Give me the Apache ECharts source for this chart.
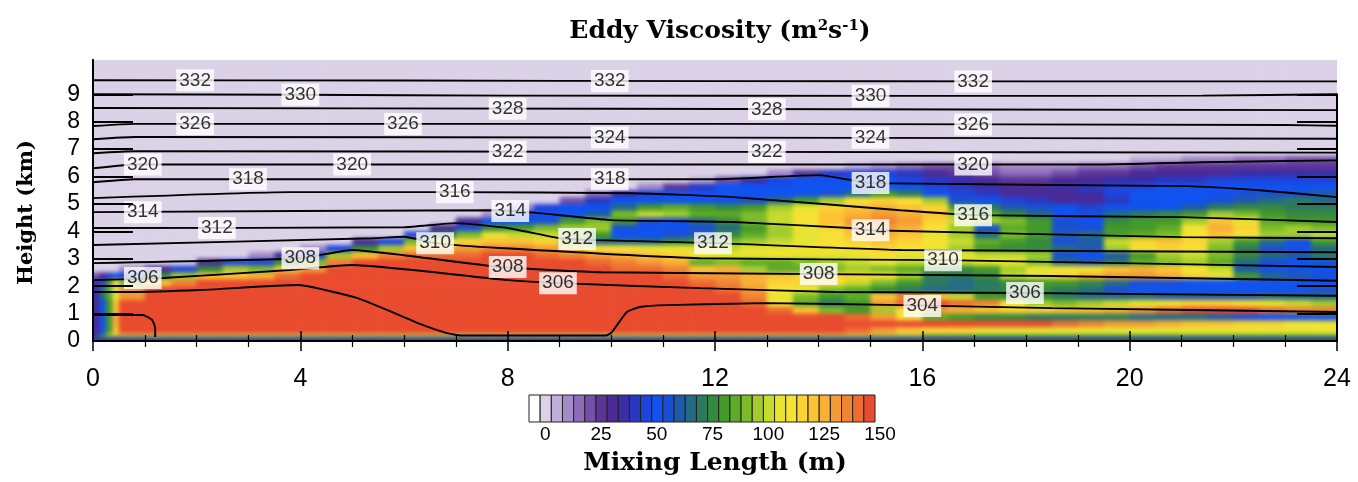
<!DOCTYPE html>
<html>
<head>
<meta charset="utf-8">
<script src="https://cdn.jsdelivr.net/npm/echarts@6/dist/echarts.min.js"></script>
<style>
  html, body { margin: 0; padding: 0; background: #fff; }
  #stage { position: relative; width: 1358px; height: 482px; }
  /* shaded field sits in the plot box, softened like a smooth contour fill */
  #fieldBox { position: absolute; left: 93px; top: 60px; width: 1244px; height: 281px; overflow: hidden; }
  #field { position: absolute; left: -93px; top: -60px; width: 1358px; height: 482px; filter: blur(2px); }
  #chart { position: absolute; left: 0; top: 0; width: 1358px; height: 482px; }
</style>
</head>
<body>
<div id="stage">
  <div id="fieldBox"><div id="field"></div></div>
  <div id="chart"></div>
</div>
<script>
// ---- axes ----
const distanceTicks = [0, 4, 8, 12, 16, 20, 24];
const heightTicks = [0, 1, 2, 3, 4, 5, 6, 7, 8, 9];
const mixingTicks = [0, 25, 50, 75, 100, 125, 150];

// colour scale: 31 steps of 5 m from -5 to 150 m
const scaleColors = [
  '#ffffff', '#dcd2e7', '#c0aedb', '#a48bc9', '#8d6cb9', '#7450a8', '#5d3598', '#4a2a94',
  '#3a2ea6', '#2a38c0', '#1e44dc', '#0f52f0', '#1a4fd5', '#1f5aaa', '#236b84', '#2c7a5e',
  '#35893e', '#45992a', '#5eab28', '#7dbb2a', '#a3cc2c', '#c7da2e', '#e7e431', '#f6e233',
  '#fbd334', '#fbc335', '#f8b036', '#f49b35', '#f08433', '#ec6c31', '#e94b2e'
];

// mixing length field: one character per column, one string per layer (top to bottom)
// character = colour step (0 .. u), step n covers 5n-5 .. 5n m
const levelKey = '0123456789abcdefghijklmnopqrstu';
const columnEdgesKm = [0, 0.125, 0.25, 0.375, 0.5, 1, 1.5, 2, 2.5, 3, 3.5, 4, 4.5, 5, 5.5, 6,
  6.5, 7, 7.5, 8, 8.5, 9, 9.5, 10, 10.5, 11, 11.5, 12, 12.5, 13, 13.5, 14, 14.5, 15, 15.5, 16,
  16.5, 17, 17.5, 18, 18.5, 19, 19.5, 20, 20.5, 21, 21.5, 22, 22.5, 23, 23.5, 24];
const layerEdgesKm = [10.25, 10, 9.75, 9.5, 9.25, 9, 8.75, 8.5, 8.25, 8, 7.75, 7.5, 7.25, 7,
  6.75, 6.5, 6.25, 6, 5.75, 5.5, 5.25, 5, 4.75, 4.5, 4.25, 4, 3.75, 3.5, 3.25, 3, 2.75, 2.5,
  2.25, 2, 1.75, 1.5, 1.25, 1, 0.75, 0.5, 0.25, 0.17, 0.08, 0];
const mixingLayers = [
  '1111 1111111 11111111 11111111 11111111 11111111 11111111',
  '1111 1111111 11111111 11111111 11111111 11111111 11111111',
  '1111 1111111 11111111 11111111 11111111 11111111 11111111',
  '1111 1111111 11111111 11111111 11111111 11111111 11111111',
  '1111 1111111 11111111 11111111 11111111 11111111 11111111',
  '1111 1111111 11111111 11111111 11111111 11111111 11111111',
  '1111 1111111 11111111 11111111 11111111 11111111 11111111',
  '1111 1111111 11111111 11111111 11111111 11111111 11111111',
  '1111 1111111 11111111 11111111 11111111 11111111 11111111',
  '1111 1111111 11111111 11111111 11111111 11111111 11111111',
  '1111 1111111 11111111 11111111 11111111 11111111 11111111',
  '1111 1111111 11111111 11111111 11111111 11111111 11111111',
  '1111 1111111 11111111 11111111 11111111 11111111 11111111',
  '1111 1111111 11111111 11111111 11111111 11111111 11111111',
  '1111 1111111 11111111 11111111 11111111 11111111 22334455',
  '1111 1111111 11111111 11111111 11111234 55433344 56666666',
  '1111 1111111 11111111 11111111 11369aa9 76544566 77778888',
  '1111 1111111 11111111 11111112 58abbbba 98766778 899aaaaa',
  '1111 1111111 11111111 11111369 bbbbbbbb a987789a abbbbbbb',
  '1111 1111111 11111111 11148abb bbbbcehf ba97778a bbbbcccd',
  '1111 1111111 11111111 1159bbbb bcehknon kcba9779 bbbcdefe',
  '1111 1111111 11111111 3abbehih ghkmopqp ohfdcbab bbdfggff',
  '1111 1111111 11111113 abbdjlki ijlnpqrq pkigebce fghkjhgg',
  '1111 1111111 1111117b bchjhcbe gjlnprsr olkjhcbg hhkpmihh',
  '1111 1111111 111117cg hjkkcbbc ehkmoqrq nkcihcch hinqojkj',
  '1111 1111111 1111afjm llkhbbcd gikmnpqp mkejhdeh ijnpnkkl',
  '1111 1111111 117ajmop poieeegh jklmnopo nlihgcdl opokhech',
  '1111 1111111 3agkpqrs srpnnmmm lmmnnnon mkhggedk nonjfcbe',
  '1111 1111137 akpstttu utsrqpon mmnmmmnm mmllkcbd hkljgedf',
  '1111 1117aag jsuuuuuu uuutsrqi jiijklml llmmjedf ijkiecbc',
  '1111 37agkjp ruuuuuuu uuuuttsp qkiijkji hghkmnnp qpnldbbb',
  '579b agkppqt uuuuuuuu uuuuuutr rqpooonk ffglmoqr rqomhedc',
  '7ahn jpsuuuu uuuuuuuu uuuuuuut sqoonljh fefghhge ccbbbbbb',
  '8eim ruuuuuu uuuuuuuu uuuuuuuu trnmjigf eefggfec bbbbbbbc',
  '8eim ruuuuuu uuuuuuuu uuuuuuuu usmjhips plhggfee eddddeee',
  '7bhp uuuuuuu uuuuuuuu uuuuuuuu utnifhrt utsnkjkl mnoonmlk',
  '7bhp uuuuuuu uuuuuuuu uuuuuuuu uutpjhkn rqpooppq rtuuutss',
  '7bhq uuuuuuu uuuuuuuu uuuuuuuu uuuuutrn ihggffff eeedcbbb',
  '7bhq uuuuuuu uuuuuuuu uuuuuuuu uuuuuuuu uuuuutsr rqppoonn',
  '7bhp uuuuuuu uuuuuuuu uuuuuuuu uuuuutrp oommmmmm mmmmmmmm',
  '8hnn nnnnnnn nnnnnnnn nnnnnnnn nnnnnnll iiiiiiii iiiiiiii',
  'eeee eeeeeee eeeeeeee eeeeeeee eeeeeeee eeeeeeee eeeeeeee',
  '8888 8888888 88888888 88888888 88888888 88888888 88888888'
];

// potential temperature isentropes (K): [distance km, height km]
const isentrope302 = [[0, 0.95], [0.96, 0.95], [1.14, 0.77], [1.2, 0.47], [1.2, 0.15]];
const isentrope304 = [[0, 1.79], [0.7, 1.79], [2.06, 1.86], [3.94, 2.04], [5.09, 1.57], [6.37, 0.58],
  [6.83, 0.29], [7.1, 0.2], [9.9, 0.2], [10.0, 0.3], [10.11, 0.58], [10.3, 1.06], [10.55, 1.24],
  [11.07, 1.31], [13, 1.38], [15.6, 1.31], [18.5, 1.2], [24, 1.06]];
const isentrope306 = [[0, 2.22], [1.35, 2.3], [3.8, 2.59], [5, 2.77], [8, 2.22], [9, 2.11], [11.7, 1.93],
  [14.3, 1.79], [18, 1.75], [24, 1.65]];
const isentrope308 = [[0, 2.84], [4, 3.02], [5, 3.32], [6, 3.13], [7.85, 2.7], [9.8, 2.51], [14, 2.44],
  [18.5, 2.37], [24, 2.2]];
const isentrope310 = [[0, 3.5], [5.4, 3.75], [6.0, 3.8], [6.6, 3.57], [7.85, 3.39], [11.7, 3.02],
  [16.4, 2.95], [24, 2.7]];
const isentrope312 = [[0, 4.12], [6.0, 4.15], [7.0, 4.3], [8.0, 4.12], [9.0, 3.75], [9.72, 3.68],
  [12, 3.57], [15.6, 3.32], [24, 3.24]];
const isentrope314 = [[0, 4.7], [7.66, 4.77], [8.4, 4.7], [10, 4.41], [12.35, 4.34], [14.6, 4.12],
  [15, 4.04], [21, 3.79], [24, 3.75]];
const isentrope316 = [[0, 5.21], [3.8, 5.43], [7, 5.43], [10.4, 5.39], [12.35, 5.25], [15.57, 4.77],
  [17, 4.59], [21, 4.52], [24, 4.34]];
const isentrope318 = [[0, 5.79], [0.8, 5.9], [12, 5.9], [14, 6.05], [15, 5.76], [21.1, 5.65],
  [22.5, 5.5], [24, 5.25]];
const isentrope320 = [[0, 6.3], [0.8, 6.44], [19.4, 6.44], [21.4, 6.52], [24, 6.59]];
const isentrope322 = [[0, 6.85], [0.8, 6.92], [12, 6.9], [24, 6.87]];
const isentrope324 = [[0, 7.36], [0.8, 7.44], [12, 7.42], [24, 7.38]];
const isentrope326 = [[0, 7.84], [0.8, 7.92], [12, 7.92], [23, 7.88], [24, 7.85]];
const isentrope328 = [[0, 8.5], [10, 8.47], [24, 8.42]];
const isentrope330 = [[0, 9.0], [4, 8.98], [8, 8.95], [16, 8.94], [21.4, 8.95], [24, 9.0]];
const isentrope332 = [[0, 9.51], [6, 9.5], [12, 9.48], [18, 9.47], [24, 9.47]];

// contour labels: [distance km, height km, theta K]
const contourLabels = [
  [1.97, 9.51, 332], [9.97, 9.48, 332], [16.98, 9.47, 332],
  [4.0, 8.98, 330], [15.0, 8.94, 330],
  [8.0, 8.47, 328], [13.0, 8.45, 328],
  [1.97, 7.92, 326], [5.98, 7.92, 326], [16.98, 7.9, 326],
  [9.97, 7.42, 324], [15.0, 7.41, 324],
  [8.0, 6.9, 322], [13.0, 6.9, 322],
  [0.96, 6.44, 320], [5.0, 6.44, 320], [16.98, 6.44, 320],
  [2.99, 5.9, 318], [9.97, 5.9, 318], [15.0, 5.76, 318],
  [6.98, 5.43, 316], [16.98, 4.59, 316],
  [0.96, 4.7, 314], [8.05, 4.74, 314], [15.0, 4.04, 314],
  [2.39, 4.12, 312], [9.34, 3.72, 312], [11.96, 3.57, 312],
  [6.6, 3.57, 310], [16.4, 2.95, 310],
  [4.0, 3.02, 308], [8.0, 2.7, 308], [14.0, 2.44, 308],
  [0.96, 2.3, 306], [8.97, 2.11, 306], [17.98, 1.75, 306],
  [16.0, 1.28, 304]
];

const isentropes = [
  [302, isentrope302], [304, isentrope304], [306, isentrope306], [308, isentrope308],
  [310, isentrope310], [312, isentrope312], [314, isentrope314], [316, isentrope316],
  [318, isentrope318], [320, isentrope320], [322, isentrope322], [324, isentrope324],
  [326, isentrope326], [328, isentrope328], [330, isentrope330], [332, isentrope332]
];

// ---- build cell table: [x0, x1, z0, z1, mixing length m] ----
const fieldCells = [];
mixingLayers.forEach((layer, r) => {
  const codes = layer.replace(/ /g, '');
  for (let c = 0; c < codes.length; c++) {
    const step = levelKey.indexOf(codes[c]);
    fieldCells.push([columnEdgesKm[c], columnEdgesKm[c + 1],
      layerEdgesKm[r + 1], layerEdgesKm[r], step * 5 - 2.5]);
  }
});
const scaleCells = scaleColors.map((_, i) => [-5 + 5 * i, 5 * i, 0, 1, 5 * i - 2.5]);

const sansFont = 'Liberation Sans, Arial, Helvetica, sans-serif';
const serifFont = 'DejaVu Serif, serif';
const xMaxKm = 24, zMaxKm = 10.25;

const colourPieces = scaleColors.map((color, i) => ({ gte: -5 + 5 * i, lt: 5 * i, color: color }));

// field cells; cells on the plot border are carried a few pixels past it so the
// softening does not fade the border (the box around the layer crops them)
function fieldRenderer(params, api) {
  const a = api.coord([api.value(0), api.value(3)]);
  const b = api.coord([api.value(1), api.value(2)]);
  let x0 = a[0], y0 = a[1], x1 = b[0] + 0.6, y1 = b[1] + 0.6;
  if (api.value(0) === 0) x0 -= 8;
  if (api.value(1) === xMaxKm) x1 += 8;
  if (api.value(3) === zMaxKm) y0 -= 8;
  if (api.value(2) === 0) y1 += 8;
  return {
    type: 'rect',
    shape: { x: x0, y: y0, width: x1 - x0, height: y1 - y0 },
    style: { fill: api.visual('color') }
  };
}

function scaleRenderer(params, api) {
  const a = api.coord([api.value(0), api.value(3)]);
  const b = api.coord([api.value(1), api.value(2)]);
  return {
    type: 'rect',
    shape: { x: a[0], y: a[1], width: b[0] - a[0], height: b[1] - a[1] },
    style: { fill: api.visual('color'), stroke: '#222', lineWidth: 1 }
  };
}

const plotGrid = { left: 93, right: 21, top: 60, bottom: 141 };

// ---- shaded field ----
const fieldChart = echarts.init(document.getElementById('field'), null, { renderer: 'canvas' });
fieldChart.setOption({
  animation: false,
  grid: plotGrid,
  visualMap: { type: 'piecewise', show: false, dimension: 4, pieces: colourPieces },
  xAxis: { type: 'value', min: 0, max: xMaxKm, show: false },
  yAxis: { type: 'value', min: 0, max: zMaxKm, show: false },
  series: [{
    type: 'custom', name: 'field', data: fieldCells, encode: { x: [0, 1], y: [2, 3] },
    renderItem: fieldRenderer, clip: false, silent: true
  }]
});

// ---- isentropes, labels, axes and colour bar ----
const frameLine = { show: true, lineStyle: { color: '#000', width: 2 } };
const heightTickStyle = { show: true, inside: true, length: 40, lineStyle: { color: '#000', width: 2 } };

const series = [
  {
    type: 'custom', name: 'scale', xAxisIndex: 2, yAxisIndex: 2,
    data: scaleCells, encode: { x: [0, 1], y: [2, 3] },
    renderItem: scaleRenderer, silent: true, z: 1
  }
];
isentropes.forEach(([theta, pts]) => {
  series.push({
    type: 'line', name: 'theta' + theta, xAxisIndex: 0, yAxisIndex: 0,
    data: pts, showSymbol: false, symbol: 'none', smooth: 0.15,
    lineStyle: { color: '#000', width: 1.9 }, silent: true, z: 3
  });
});
series.push({
  type: 'scatter', name: 'labels', xAxisIndex: 0, yAxisIndex: 0,
  data: contourLabels, symbolSize: 0, silent: true, z: 5,
  label: {
    show: true, position: 'inside', formatter: p => String(p.value[2]),
    color: '#000', fontSize: 19, fontFamily: sansFont,
    backgroundColor: '#fff', padding: [2, 3, 1, 3], lineHeight: 19
  }
});

const option = {
  animation: false,
  backgroundColor: 'transparent',
  title: {
    text: 'Eddy Viscosity (m{sup|2}s{sup|-1})',
    left: 715, top: 14, textAlign: 'center',
    textStyle: {
      fontFamily: serifFont, fontWeight: 'bold', fontSize: 25, color: '#000',
      rich: {
        sup: { fontFamily: serifFont, fontWeight: 'bold', fontSize: 15, color: '#000', verticalAlign: 'top' }
      }
    }
  },
  grid: [
    plotGrid,
    { left: 529, width: 346, top: 395, height: 27 },
    // same plot box, limited to the 0-9 km tick range
    { left: 93, right: 21, top: 94.27, bottom: 141 }
  ],
  visualMap: {
    type: 'piecewise', show: false, dimension: 4, seriesIndex: [0], pieces: colourPieces
  },
  xAxis: [
    {
      gridIndex: 0, type: 'value', min: 0, max: xMaxKm, interval: 4, position: 'bottom', z: 6,
      axisLine: frameLine,
      axisTick: { inside: true, length: 10, lineStyle: { color: '#000', width: 1.5 } },
      minorTick: { show: true, splitNumber: 4, length: 6, lineStyle: { color: '#000', width: 1.2 } },
      axisLabel: { color: '#000', fontSize: 25, fontFamily: sansFont, margin: 26 },
      splitLine: { show: false }, minorSplitLine: { show: false }
    },
    {
      gridIndex: 0, type: 'value', min: 0, max: xMaxKm, interval: 4, position: 'top', z: 6,
      axisLine: frameLine,
      axisTick: { inside: true, length: 10, lineStyle: { color: '#000', width: 1.5 } },
      minorTick: { show: true, splitNumber: 4, length: 6, lineStyle: { color: '#000', width: 1.2 } },
      axisLabel: { show: false }, splitLine: { show: false }
    },
    {
      gridIndex: 1, type: 'value', min: -5, max: 150,
      axisLine: { show: false }, axisTick: { show: false }, splitLine: { show: false },
      axisLabel: { color: '#000', fontSize: 19, fontFamily: sansFont, margin: 3,
        padding: [0, 0, 0, 10], customValues: mixingTicks },
      name: 'Mixing Length (m)', nameLocation: 'middle', nameGap: 29,
      nameTextStyle: { fontFamily: serifFont, fontWeight: 'bold', fontSize: 25, color: '#000',
        padding: [0, 0, 0, 26] }
    },
    { gridIndex: 2, type: 'value', min: 0, max: xMaxKm, show: false }
  ],
  yAxis: [
    {
      gridIndex: 0, type: 'value', min: 0, max: zMaxKm, position: 'left', z: 6,
      axisLine: frameLine, axisTick: { show: false }, axisLabel: { show: false },
      splitLine: { show: false },
      name: 'Height (km)', nameLocation: 'middle', nameGap: 56, nameRotate: 90,
      nameTextStyle: { fontFamily: serifFont, fontWeight: 'bold', fontSize: 21, color: '#000',
        padding: [0, 24, 0, 0] }
    },
    {
      gridIndex: 0, type: 'value', min: 0, max: zMaxKm, position: 'right', z: 6,
      axisLine: frameLine, axisTick: { show: false }, axisLabel: { show: false },
      splitLine: { show: false }
    },
    { gridIndex: 1, type: 'value', min: 0, max: 1, show: false },
    {
      gridIndex: 2, type: 'value', min: 0, max: 9, interval: 1, position: 'left', z: 6,
      axisLine: frameLine, axisTick: heightTickStyle, splitLine: { show: false },
      axisLabel: { color: '#000', fontSize: 23, fontFamily: sansFont, margin: 13 }
    },
    {
      gridIndex: 2, type: 'value', min: 0, max: 9, interval: 1, position: 'right', z: 6,
      axisLine: frameLine, axisTick: heightTickStyle, splitLine: { show: false },
      axisLabel: { show: false }
    }
  ],
  series: series
};

const chart = echarts.init(document.getElementById('chart'), null, { renderer: 'canvas' });
chart.setOption(option);
</script>
</body>
</html>
